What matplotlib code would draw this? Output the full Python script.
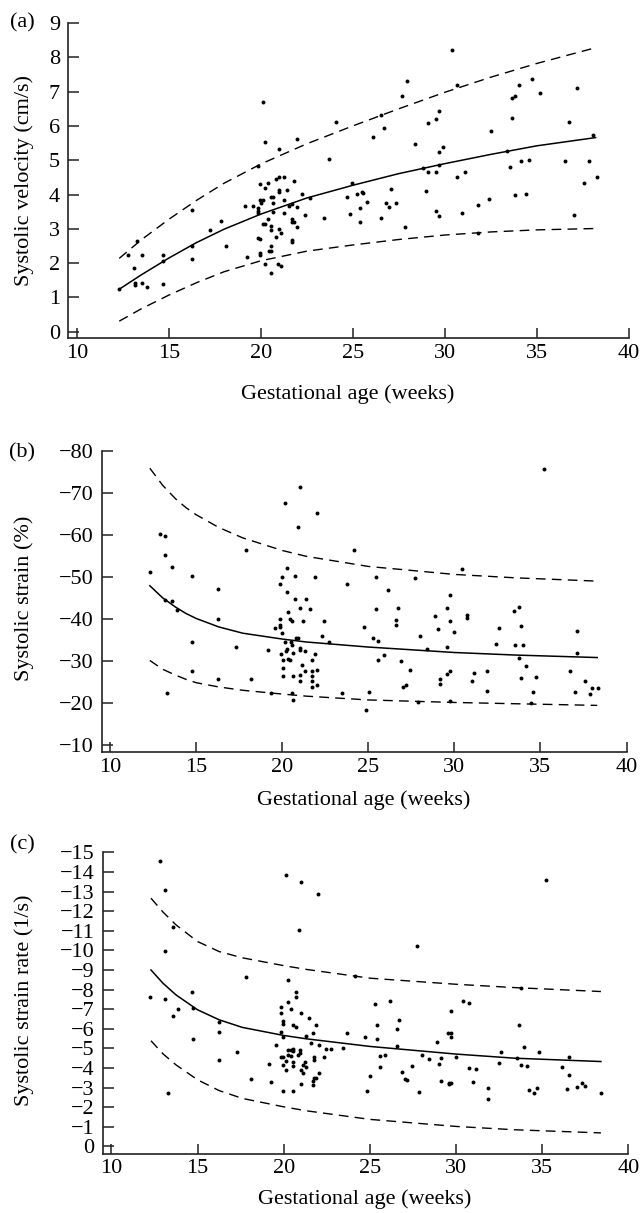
import matplotlib
matplotlib.use("Agg")
import matplotlib.pyplot as plt

plt.rcParams['font.family'] = ['Liberation Serif', 'DejaVu Serif']
plt.rcParams['axes.unicode_minus'] = True

# ---------------- Panel (a): systolic velocity ----------------
ga_a = [12.26, 12.80, 13.26, 13.09, 13.13, 13.13, 13.55, 13.55, 13.82, 14.67, 14.67, 14.67,
        16.26, 16.26, 16.26, 17.24, 17.83, 18.10, 19.24, 19.14, 19.55, 19.82, 19.82, 19.82,
        19.86, 19.86, 19.97, 19.97, 19.97, 19.95, 20.00, 20.13, 20.24, 19.97, 20.13, 20.13,
        20.24, 20.24, 20.24, 20.40, 20.40, 20.46, 20.55, 20.55, 20.55, 20.55, 20.55, 20.55,
        20.67, 20.67, 20.67, 20.82, 20.82, 20.98, 20.98, 20.98, 20.98, 20.98, 20.94, 21.09,
        21.12,
        21.96, 21.25, 21.40, 21.81, 21.25, 21.69, 21.54, 21.99, 22.23, 22.68, 21.25, 22.41,
        21.69, 21.69, 21.81, 21.94, 21.69, 21.69, 23.68, 24.11, 23.41, 24.67, 24.98, 24.82,
        25.25, 25.52, 25.55, 25.38, 25.38, 25.79, 26.10, 26.53, 26.70, 26.53, 26.81, 26.97,
        27.10, 27.37, 27.69, 27.96, 27.82, 28.38, 28.83, 28.98, 29.10, 29.10, 29.50, 29.66,
        29.54, 29.68, 29.66, 29.93, 29.52, 29.68, 30.37, 30.68, 30.69, 31.09, 30.95, 31.82,
        31.82, 32.38, 32.54, 33.39, 33.52, 33.66, 33.66, 33.80,
        33.84, 34.02, 34.73, 35.16, 36.74, 37.19, 34.13, 34.58, 36.52, 37.86, 38.04, 37.59,
        38.30, 34.42, 37.03]
vel_a = [1.24, 2.24, 2.64, 1.85, 1.41, 1.36, 2.24, 1.43, 1.31, 2.24, 2.06, 1.38,
         3.55, 2.51, 2.12, 2.96, 3.24, 2.49, 2.19, 3.66, 3.68, 4.84, 3.60, 3.53,
         3.45, 2.72, 2.70, 2.31, 2.25, 3.84, 3.76, 6.69, 5.52, 4.30, 3.83, 3.13,
         3.14, 4.18, 1.97, 4.34, 3.30, 2.34, 2.34, 2.50, 1.72, 3.09, 2.96, 3.94,
         3.92, 3.74, 3.50, 4.44, 2.77, 5.33, 4.52, 4.13, 4.07, 3.01, 1.99, 2.87,
         1.92,
         5.61, 4.52, 4.13, 4.40, 3.84, 3.71, 3.67, 3.64, 4.03, 3.91, 3.45, 3.40,
         3.28, 3.21, 3.21, 3.05, 2.67, 2.62, 5.04, 6.12, 3.33, 3.93, 4.35, 3.44,
         4.01, 4.08, 4.04, 3.60, 3.21, 3.78, 5.69, 6.31, 5.95, 3.33, 3.76, 3.65,
         4.16, 3.74, 6.87, 7.32, 3.05, 5.47, 4.78, 4.09, 6.09, 4.66, 6.19, 6.44,
         4.66, 4.87, 5.25, 5.38, 3.51, 3.38, 8.21, 7.20, 4.51, 4.66, 3.47, 3.70,
         2.89, 3.87, 5.86, 5.27, 4.80, 6.81, 6.22, 3.98,
         6.88, 7.19, 7.38, 6.97, 6.12, 7.10, 4.99, 5.01, 4.99, 4.99, 5.73, 4.33,
         4.52, 4.01, 3.40]

fit_ga_a = [12.3, 13.5, 15.0, 16.5, 18.0, 20.0, 22.5, 25.0, 27.5, 30.0, 32.5, 35.0, 38.2]
mean_a = [1.24, 1.66, 2.15, 2.60, 2.99, 3.43, 3.90, 4.27, 4.61, 4.90, 5.17, 5.42, 5.66]
upper_a = [2.14, 2.68, 3.28, 3.83, 4.33, 4.89, 5.48, 6.00, 6.50, 6.98, 7.42, 7.82, 8.28]
lower_a = [0.31, 0.67, 1.07, 1.43, 1.75, 2.07, 2.35, 2.53, 2.69, 2.82, 2.91, 2.97, 3.01]

# ---------------- Panel (b): systolic strain ----------------
ga_b = [12.32, 12.90, 13.17, 13.17, 13.59, 13.17, 13.59, 13.88, 13.30, 14.75, 14.75, 14.75,
        16.29, 16.29, 16.29, 17.30, 17.88, 18.17, 19.15, 19.32, 19.86, 20.00, 20.29, 20.73,
        20.29, 20.73, 21.02, 21.39, 20.31, 20.42, 20.58, 19.88, 19.88, 19.88, 19.59, 20.00,
        21.18, 20.17, 20.77, 20.89, 20.48, 20.56, 21.02, 21.04, 21.31, 20.27, 19.92, 20.19,
        20.62, 20.04, 20.31, 20.44, 21.16, 21.31, 20.04, 20.02, 20.62, 21.02, 21.02, 20.58,
        20.60, 20.15, 20.89, 21.02,
        21.58, 21.87, 22.01, 21.87, 21.72, 21.72, 21.72, 21.72, 21.72, 22.01, 22.01, 22.30,
        22.43, 22.70, 23.44, 23.75, 24.17, 24.73, 24.85, 25.02, 25.27, 25.42, 25.42, 25.58,
        25.58, 25.89, 26.16, 26.58, 26.58, 26.74, 26.89, 27.01, 27.16, 27.43, 27.72, 27.88,
        28.01, 28.42, 28.86, 29.02, 29.15, 29.15, 29.59, 29.59, 29.59, 29.73, 29.73, 29.73,
        29.73, 30.00, 30.42, 30.71, 30.71, 31.02, 31.14, 31.87, 31.87, 32.43, 32.59, 33.44,
        33.53,
        35.18, 33.75, 34.01, 33.87, 33.75, 34.18, 33.87, 34.73, 34.59, 34.43, 37.15, 37.15,
        36.73, 37.03, 37.58, 37.86, 37.98, 38.34]
strain_b = [-51.2, -60.3, -59.8, -55.2, -52.3, -44.5, -44.3, -42.1, -22.3, -50.2, -34.4, -27.5,
            -47.1, -40.0, -25.8, -33.3, -56.3, -25.6, -32.5, -22.3, -48.4, -50.0, -52.2, -50.2,
            -46.3, -44.7, -42.7, -44.7, -41.7, -39.9, -39.6, -40.0, -38.5, -38.0, -37.8, -36.6,
            -39.4, -34.4, -35.4, -35.5, -34.4, -33.8, -33.0, -32.6, -32.4, -32.8, -31.7, -32.4,
            -31.8, -30.2, -30.4, -30.2, -29.1, -27.6, -28.2, -26.3, -26.4, -26.6, -25.2, -22.3,
            -20.6, -67.6, -62.0, -71.4,
            -42.3, -50.0, -65.2, -31.7, -30.1, -27.5, -26.5, -25.1, -23.8, -27.9, -24.2, -36.0,
            -39.4, -34.4, -22.3, -48.4, -56.3, -38.1, -18.3, -22.5, -35.5, -50.0, -42.3, -34.8,
            -30.1, -31.5, -46.9, -39.8, -38.6, -42.6, -29.9, -23.8, -24.3, -27.9, -49.8, -20.3,
            -36.0, -32.9, -40.7, -37.5, -25.8, -24.4, -42.5, -33.4, -26.8, -27.6, -45.8, -39.4,
            -20.5, -37.0, -51.8, -41.0, -40.3, -25.3, -27.2, -27.7, -22.8, -34.1, -37.8, -41.9,
            -33.9,
            -75.7, -42.8, -33.7, -38.2, -30.8, -28.9, -25.9, -26.1, -22.6, -20.0, -37.2, -31.9,
            -27.6, -22.7, -25.1, -22.2, -23.5, -23.5]

fit_ga_b = [12.3, 13.05, 13.8, 14.4, 15.0, 16.3, 17.7, 20.0, 21.4, 25.0, 30.0, 33.5, 38.3]
upper_b = [-75.9, -71.8, -68.6, -66.5, -64.8, -61.8, -59.3, -56.3, -54.9, -52.5, -50.6, -49.8, -49.0]
mean_b = [-47.9, -45.0, -42.8, -41.3, -40.1, -38.1, -36.6, -35.2, -34.5, -33.3, -32.0, -31.4, -30.8]
lower_b = [-30.1, -28.0, -26.6, -25.6, -24.8, -23.8, -23.0, -22.1, -21.6, -20.7, -20.1, -19.8, -19.4]

# ---------------- Panel (c): systolic strain rate ----------------
ga_c = [12.85, 13.13, 13.56, 13.12, 12.27, 13.12, 13.56, 13.85, 13.27, 14.67, 14.71, 14.71,
        16.25, 16.25, 16.25, 17.27, 17.83, 18.12, 19.13, 19.27, 19.58, 19.83, 19.83, 19.98,
        19.98, 19.83, 19.98, 19.83, 19.98, 20.13, 19.98, 20.13, 19.98, 20.15, 20.27, 20.27,
        20.42, 20.27, 20.42, 20.27, 20.42, 20.56, 20.56, 20.56, 20.56, 20.56, 20.56, 20.69,
        20.69, 20.69, 20.85, 20.94, 20.94, 20.98, 20.87, 21.00, 20.98, 21.13, 20.98, 21.23,
        21.13, 21.29,
        22.00, 21.44, 21.87, 21.71, 21.60, 22.02, 22.46, 22.73, 23.42, 23.69, 22.31, 21.73,
        21.73, 21.27, 22.02, 21.77, 21.87, 21.71, 21.71, 24.15, 24.71, 24.85, 24.98, 25.29,
        25.44, 25.42, 25.58, 25.58, 25.85, 26.15, 26.58, 26.71, 26.58, 26.87, 27.02, 27.15,
        27.44, 27.71, 27.87, 28.00, 28.44, 28.87, 29.00, 29.13, 29.13, 29.54, 29.69, 29.73,
        29.73, 29.58, 29.58, 29.73, 30.00, 30.42, 30.73, 30.75, 31.15, 31.00, 31.85, 31.85,
        32.46, 32.58,
        33.63, 33.51, 33.93, 33.79, 34.10, 34.22, 34.53, 34.69, 34.81, 35.24, 33.79, 36.16,
        36.52, 36.52, 36.42, 36.99, 37.30, 37.46, 38.41]
rate_c = [-14.58, -13.08, -11.19, -9.99, -7.64, -7.53, -6.64, -7.00, -2.70, -7.88, -7.05, -5.47,
          -6.37, -5.83, -4.40, -4.81, -8.63, -3.43, -4.20, -3.28, -5.18, -7.12, -6.78, -6.42,
          -6.23, -5.83, -5.59, -4.55, -4.55, -4.37, -4.13, -3.91, -2.85, -13.84, -8.49, -7.39,
          -7.00, -4.93, -4.93, -4.67, -4.59, -4.98, -4.89, -4.33, -4.08, -2.85, -6.20, -6.08,
          -7.87, -7.61, -4.64, -4.94, -4.76, -6.78, -11.04, -13.51, -3.91, -3.74, -3.18, -4.33,
          -4.13, -5.62,
          -12.86, -6.54, -6.20, -5.76, -5.25, -5.18, -4.98, -4.96, -5.01, -5.76, -4.57, -4.55,
          -4.43, -4.03, -3.72, -3.48, -3.48, -3.35, -3.11, -8.70, -5.59, -2.84, -3.57, -7.24,
          -6.17, -5.49, -4.60, -4.04, -4.65, -7.41, -6.01, -6.46, -5.11, -3.81, -3.45, -3.40,
          -4.08, -10.24, -2.79, -4.64, -4.45, -5.33, -4.21, -4.50, -3.36, -5.79, -5.79, -5.57,
          -6.93, -3.26, -3.18, -3.21, -4.54, -7.41, -7.29, -4.01, -3.96, -3.28, -2.96, -2.43,
          -4.23, -4.82,
          -6.20, -4.50, -5.05, -4.15, -4.08, -2.89, -2.75, -2.98, -4.83, -13.59, -8.10, -4.05,
          -4.56, -3.65, -2.93, -3.01, -3.23, -3.09, -2.75]

fit_ga_c = [12.3, 13.0, 13.75, 15.0, 16.25, 17.6, 20.0, 21.3, 25.0, 30.0, 33.4, 38.4]
upper_c = [-12.66, -11.95, -11.30, -10.45, -9.94, -9.62, -9.22, -9.03, -8.58, -8.27, -8.10, -7.90]
mean_c = [-9.00, -8.32, -7.73, -6.97, -6.46, -6.07, -5.66, -5.49, -5.10, -4.71, -4.50, -4.33]
lower_c = [-5.39, -4.72, -4.16, -3.40, -2.85, -2.45, -2.02, -1.82, -1.38, -1.02, -0.85, -0.69]

W, H = 643, 1213
fig = plt.figure(figsize=(W / 100, H / 100), dpi=100)
FS = 16


def rect(l, r, t, b):
    return [l / W, 1 - b / H, (r - l) / W, (b - t) / H]


def style(ax, xlim, ylim, yticks):
    ax.set_xlim(*xlim)
    ax.set_ylim(*ylim)
    ax.set_xticks([10, 15, 20, 25, 30, 35, 40])
    ax.set_yticks(yticks)
    for s in ['top', 'right']:
        ax.spines[s].set_visible(False)
    for s in ['left', 'bottom']:
        ax.spines[s].set_linewidth(1.2)
        ax.spines[s].set_color('#222222')
    ax.tick_params(axis='x', direction='in', length=7.5, width=1.1, pad=4,
                   labelsize=FS, color='#222222')
    ax.tick_params(axis='y', direction='in', length=8, width=1.1, pad=6,
                   labelsize=FS, color='#222222')
    ax.patch.set_alpha(0)


def draw(ax, gx, gy, fx, fm, fu, fl):
    ax.plot(fx, fm, color='black', lw=1.1, solid_joinstyle='round')
    for f in (fu, fl):
        ax.plot(fx, f, color='black', lw=1.0, dashes=(7, 4.5))
    ax.scatter(gx, gy, s=8, color='black', linewidths=0, zorder=3)


ax_a = fig.add_axes(rect(68.3, 628.7, 23, 338.3))
draw(ax_a, ga_a, vel_a, fit_ga_a, mean_a, upper_a, lower_a)
style(ax_a, (9.53, 40), (-0.19, 9), list(range(0, 10)))

ax_b = fig.add_axes(rect(102, 626.5, 451, 752))
draw(ax_b, ga_b, strain_b, fit_ga_b, mean_b, upper_b, lower_b)
style(ax_b, (9.52, 40), (-8.3, -80), list(range(-80, -9, 10)))

ax_c = fig.add_axes(rect(102.7, 628.5, 852.3, 1153.5))
draw(ax_c, ga_c, rate_c, fit_ga_c, mean_c, upper_c, lower_c)
style(ax_c, (9.5, 40), (0.36, -15), list(range(-15, 1)))

# axis labels
fig.text(24.5 / W, 1 - 180 / H, 'Systolic velocity (cm/s)', rotation=90,
         ha='center', va='center', fontsize=FS)
fig.text(24.5 / W, 1 - 598 / H, 'Systolic strain (%)', rotation=90,
         ha='center', va='center', fontsize=FS)
fig.text(24.5 / W, 1 - 1000 / H, 'Systolic strain rate (1/s)', rotation=90,
         ha='center', va='center', fontsize=FS)
for xc, yc in [(348, 394), (364, 800), (365, 1199)]:
    fig.text(xc / W, 1 - yc / H, 'Gestational age (weeks)', ha='center',
             va='center', fontsize=FS)
for lab, yc in [('(a)', 23), ('(b)', 453), ('(c)', 845)]:
    fig.text(22.4 / W, 1 - yc / H, lab, ha='center', va='center', fontsize=FS)

fig.savefig('out.png', dpi=100, facecolor='white')
